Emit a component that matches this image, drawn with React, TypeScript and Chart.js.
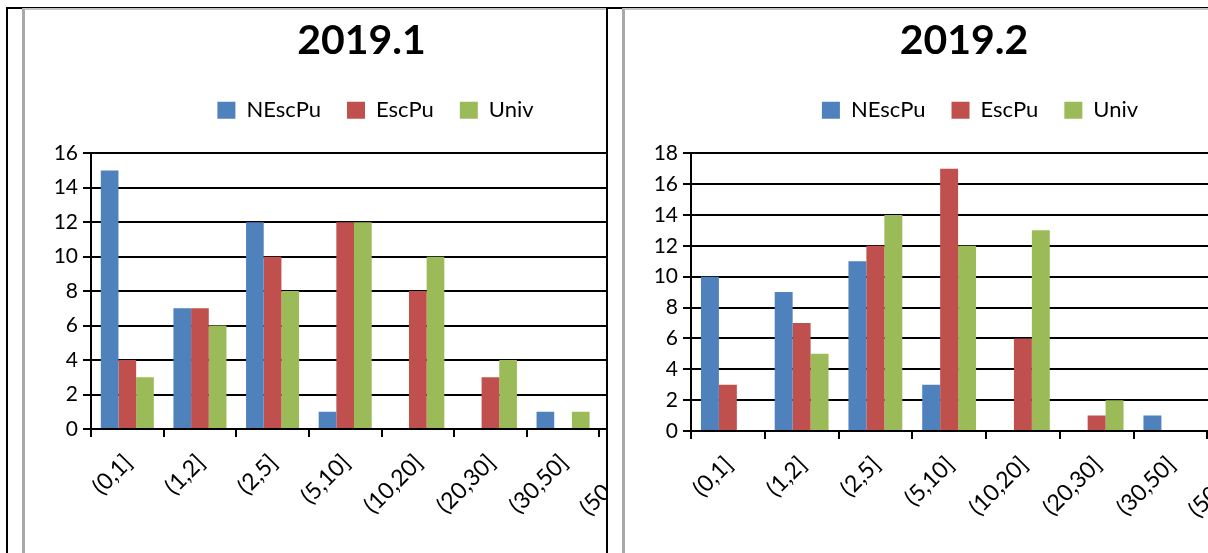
import React, { useEffect, useRef } from "react";
import { Chart, registerables } from "chart.js";

Chart.register(...registerables);

// ---- data ----
const categories = ["(0,1]", "(1,2]", "(2,5]", "(5,10]", "(10,20]", "(20,30]", "(30,50]", "(50,+∞)"];
const seriesNames = ["NEscPu", "EscPu", "Univ"];
const seriesColors = ["#4F81BD", "#C0504D", "#9BBB59"];

const nescpu2019_1 = [15, 7, 12, 1, 0, 0, 1, 0];
const escpu2019_1 = [4, 7, 10, 12, 8, 3, 0, 0];
const univ2019_1 = [3, 6, 8, 12, 10, 4, 1, 0];

const nescpu2019_2 = [10, 9, 11, 3, 0, 0, 1, 0];
const escpu2019_2 = [3, 7, 12, 17, 6, 1, 0, 0];
const univ2019_2 = [0, 5, 14, 12, 13, 2, 0, 0];

const title1 = "2019.1";
const title2 = "2019.2";
const yMax1 = 16;
const yMax2 = 18;
const yStep = 2;

const FONT = "Lato, 'Open Sans', sans-serif";

type PanelProps = {
  title: string;
  series: number[][];
  yMax: number;
  width: number;
  height: number;
  rightPad: number;
  bottomPad: number;
  legendDx: number;
  titleDx: number;
};

function ChartPanel({ title, series, yMax, width, height, rightPad, bottomPad, legendDx, titleDx }: PanelProps) {
  const ref = useRef<HTMLCanvasElement | null>(null);

  useEffect(() => {
    if (!ref.current) return;
    const headerTweak = {
      id: "headerTweak",
      beforeInit(chart: any) {
        const lg = chart.legend;
        if (!lg) return;
        const orig = lg.fit.bind(lg);
        lg.fit = function () {
          orig();
          this.height += 22;
        };
      },
      afterLayout(chart: any) {
        const lg = chart.legend;
        if (lg) {
          lg.left += legendDx;
          lg.right += legendDx;
        }
        const tb = chart.titleBlock;
        if (tb) {
          tb.left += titleDx;
          tb.right += titleDx;
        }
      },
    };

    const chart = new Chart(ref.current, {
      type: "bar",
      data: {
        labels: categories,
        datasets: seriesNames.map((name, i) => ({
          label: name,
          data: series[i],
          backgroundColor: seriesColors[i],
          borderWidth: 0,
          categoryPercentage: 0.73,
          barPercentage: 1.0,
        })),
      },
      options: {
        animation: false,
        responsive: false,
        events: [],
        layout: { padding: { left: 0, right: rightPad, top: 0, bottom: bottomPad } },
        plugins: {
          title: {
            display: true,
            text: title,
            color: "#000",
            font: { family: FONT, size: 41, weight: "bold" },
            padding: { top: 6, bottom: 8 },
          },
          legend: {
            display: true,
            position: "top",
            labels: {
              boxWidth: 18,
              boxHeight: 17,
              padding: 26,
              color: "#000",
              font: { family: FONT, size: 22 },
            },
          },
          tooltip: { enabled: false },
        },
        scales: {
          x: {
            grid: {
              display: true,
              drawOnChartArea: false,
              drawTicks: true,
              tickLength: 8,
              color: "#000",
              lineWidth: 2,
              offset: true,
            },
            border: { display: true, color: "#000", width: 2 },
            ticks: {
              color: "#000",
              font: { family: FONT, size: 23 },
              minRotation: 45,
              maxRotation: 45,
              autoSkip: false,
              padding: 12,
              labelOffset: 1,
            },
            afterFit: (s: any) => {
              s.height = 100;
            },
          },
          y: {
            min: 0,
            max: yMax,
            ticks: {
              stepSize: yStep,
              color: "#000",
              font: { family: FONT, size: 21 },
              padding: 5,
            },
            grid: { color: "#000", lineWidth: 2, tickLength: 8, drawTicks: true },
            border: { display: true, color: "#000", width: 2 },
            afterFit: (s: any) => {
              s.width = 66;
            },
          },
        },
      },
      plugins: [headerTweak],
    } as any);
    return () => chart.destroy();
  }, [title, series, yMax, width, height, rightPad, bottomPad, legendDx, titleDx]);

  return <canvas ref={ref} width={width} height={height} style={{ display: "block" }} />;
}

export default function App() {
  const line = (style: React.CSSProperties): React.CSSProperties => ({
    position: "absolute",
    background: "#000",
    ...style,
  });
  const box = (left: number, w: number): React.CSSProperties => ({
    position: "absolute",
    left,
    top: 8,
    width: w,
    height: 545,
    background: "#fff",
    borderLeft: "3px solid #a8a8a8",
    borderTop: "2px solid #c4c4c4",
    overflow: "hidden",
  });
  return (
    <div
      style={{
        position: "fixed",
        left: 0,
        top: 0,
        width: 1208,
        height: 553,
        overflow: "hidden",
        background: "#fff",
      }}
    >
      <div style={line({ left: 6, top: 7, width: 1202, height: 2 })} />
      <div style={line({ left: 6, top: 7, width: 2, height: 546 })} />
      <div style={line({ left: 606, top: 7, width: 2, height: 546 })} />
      <div style={box(22, 581)}>
        <ChartPanel
          title={title1}
          series={[nescpu2019_1, escpu2019_1, univ2019_1]}
          yMax={yMax1}
          width={672}
          height={540}
          rightPad={25}
          bottomPad={21}
          legendDx={27}
          titleDx={13}
        />
      </div>
      <div style={box(622, 583)}>
        <ChartPanel
          title={title2}
          series={[nescpu2019_2, escpu2019_2, univ2019_2]}
          yMax={yMax2}
          width={678}
          height={540}
          rightPad={22}
          bottomPad={19}
          legendDx={27}
          titleDx={11}
        />
      </div>
    </div>
  );
}
